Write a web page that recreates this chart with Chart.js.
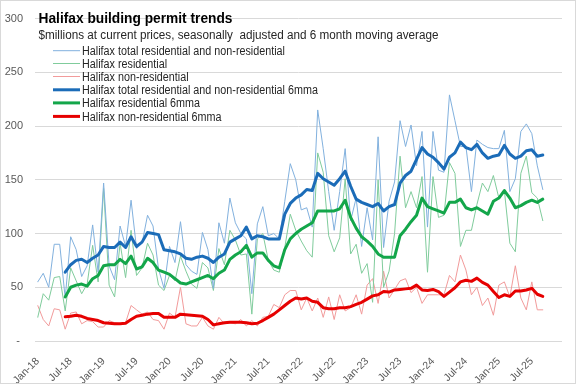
<!DOCTYPE html>
<html><head><meta charset="utf-8">
<script src="https://cdn.jsdelivr.net/npm/chart.js@4.4.1/dist/chart.umd.min.js"></script>
<style>html,body{margin:0;padding:0;background:#fff;}canvas{display:block;}</style>
</head><body>
<canvas id="c" width="577" height="385"></canvas>
<script>
const monthNames = ['Jan','Feb','Mar','Apr','May','Jun','Jul','Aug','Sep','Oct','Nov','Dec'];
const yearLabels = ['18','19','20','21','22','23','24','25'];
const categories = yearLabels.flatMap(y => monthNames.map(m => m + '-' + y));

const totalMonthly = [
 55,63,50,90,90,40,97,85,60,70,108,64,
 147,70,57,107,88,131,86,91,117,107,67,49,
 88,73,111,71,65,62,101,85,49,110,91,133,
 110,100,95,44,109,125,98,100,95,130,165,150,
 122,124,106,215,179,139,103,139,179,112,133,88,
 124,94,190,87,130,148,205,181,201,163,195,106,
 195,159,157,229,205,181,181,139,187,183,180,179,
 179,196,139,151,195,202,193,163,141];
const residentialMonthly = [
 22,44,38,59,60,28,68,56,44,53,89,55,
 142,52,41,91,59,103,61,68,91,80,52,47,
 61,56,79,65,53,49,73,68,47,86,71,103,
 94,80,81,25,95,100,75,66,64,87,118,103,
 93,84,78,175,157,98,83,96,151,81,90,63,
 72,36,150,50,65,100,172,124,139,124,153,64,
 153,115,117,166,156,88,103,103,127,147,139,154,
 133,140,91,83,156,172,138,133,112];
const nonResMonthly = [
 33,20,14,30,29,11,26,27,16,19,18,13,
 13,19,17,16,17,33,29,25,27,20,19,11,
 26,22,50,16,14,14,22,14,11,22,16,17,
 16,20,14,19,14,22,23,34,31,43,47,47,
 29,40,28,40,22,41,20,43,28,31,43,25,
 52,58,35,65,40,48,56,58,45,50,35,43,
 43,43,43,61,55,80,66,43,50,33,40,24,
 52,55,41,70,40,29,55,29,29];
const totalMA = [
 null,null,null,null,null,64,71,75,76,73,77,80,
 88,87,87,92,87,97,88,92,101,100,99,85,
 84,83,81,77,76,78,79,77,73,78,81,92,
 95,98,106,95,98,97,95,95,95,118,128,133,
 136,141,140,156,151,148,145,151,158,144,132,129,
 127,125,128,121,125,127,147,154,158,169,180,174,
 171,166,160,171,175,185,180,178,183,175,170,172,
 173,182,174,170,172,177,178,172,173];
const residentialMA = [
 null,null,null,null,null,41,50,52,53,51,58,61,
 70,71,71,76,72,79,67,69,77,73,66,64,
 62,58,54,53,55,57,59,61,58,63,66,76,
 80,83,89,78,82,82,75,70,68,85,95,100,
 104,107,110,121,121,121,121,123,131,115,105,97,
 93,88,81,78,78,78,98,104,111,117,133,125,
 123,121,119,129,129,132,124,122,124,121,118,130,
 133,140,133,124,126,129,131,129,132];
const nonResMA = [
 null,null,null,null,null,22.5,23,24,23,21,20,19,
 17,16.5,16,16,16.5,20,23,24,25,25.5,25.5,22,
 22,22,25,24.5,24,23.5,23,20,15,16,17,17.5,
 17.5,17.5,17,16,16.5,19,22,25,29,33,37,40,
 39,40,37,36,31,30,30,31,31,32,34,36,
 39,42,43,46,45.5,47.5,48,48.5,49,52,47.5,47,
 48,46,41.5,45.5,49.5,55,56.5,55.5,58.5,54.5,52,46,
 40.5,43,41.5,46.5,46.5,47.5,49,43.5,41.5];

const seriesNames = [
 'Halifax total residential and non-residential',
 'Halifax residential',
 'Halifax non-residential',
 'Halifax total residential and non-residential 6mma',
 'Halifax residential 6mma',
 'Halifax non-residential 6mma'];
const titleText = 'Halifax building permit trends';
const subtitleText = '$millions at current prices, seasonally  adjusted and 6 month moving average';

function hasFont(name){
  const c = document.createElement('canvas').getContext('2d');
  const s = 'abcdefghijklmnopqrstuvwxyz0123456789';
  c.font = '40px monospace'; const a = c.measureText(s).width;
  c.font = '40px "' + name + '", monospace'; const b = c.measureText(s).width;
  return Math.abs(a-b) > 0.5;
}
const NARROW = hasFont('Liberation Sans Narrow');
const FAMILY = NARROW ? '"Liberation Sans Narrow", "Liberation Sans", sans-serif' : '"Liberation Sans", Arial, sans-serif';

function fitText(ctx, text, x, y, font, targetW, color){
  ctx.save();
  ctx.font = font; ctx.fillStyle = color;
  const w = ctx.measureText(text).width;
  const s = targetW ? targetW / w : 1;
  ctx.translate(x, y); ctx.scale(s, 1);
  ctx.textAlign = 'left'; ctx.textBaseline = 'alphabetic';
  ctx.fillText(text, 0, 0);
  ctx.restore();
}

const decor = {
  id: 'decor',
  beforeDraw(chart){
    const ctx = chart.ctx;
    ctx.save(); ctx.fillStyle = '#fff'; ctx.fillRect(0,0,chart.width,chart.height); ctx.restore();
  },
  afterDraw(chart){
    const ctx = chart.ctx;
    fitText(ctx, titleText, 38.5, 23, 'bold 15px ' + FAMILY, 194, '#000000');
    fitText(ctx, subtitleText, 38.5, 38.5, '12.5px ' + FAMILY, 400, '#262626');
    const rows = [50.7, 63.5, 76.5, 89.8, 102.9, 116.4];
    const ds = chart.data.datasets;
    ctx.save();
    ctx.font = '12px ' + FAMILY;
    const sc = 203 / ctx.measureText(seriesNames[0]).width;
    ctx.restore();
    ds.forEach((d, k) => {
      const y = rows[k];
      ctx.save();
      ctx.strokeStyle = d.borderColor; ctx.lineWidth = d.borderWidth;
      ctx.beginPath(); ctx.moveTo(53, y); ctx.lineTo(80, y); ctx.stroke();
      ctx.restore();
      ctx.save();
      ctx.font = '12px ' + FAMILY; ctx.fillStyle = '#262626';
      ctx.translate(82, y + 4.3); ctx.scale(sc, 1);
      ctx.fillText(d.label, 0, 0);
      ctx.restore();
    });
    ctx.save(); ctx.strokeStyle = '#d9d9d9'; ctx.lineWidth = 1;
    ctx.strokeRect(0.5, 0.5, 575, 383); ctx.restore();
  }
};

const thin = 1, thick = 3;
const datasets = [
 {label: seriesNames[0], data: totalMonthly, borderColor: '#82b1de', borderWidth: thin, order: 3},
 {label: seriesNames[1], data: residentialMonthly, borderColor: '#80cc9c', borderWidth: thin, order: 4},
 {label: seriesNames[2], data: nonResMonthly, borderColor: '#f29b9b', borderWidth: thin, order: 5},
 {label: seriesNames[3], data: totalMA, borderColor: '#1b6cb8', borderWidth: thick, order: 0},
 {label: seriesNames[4], data: residentialMA, borderColor: '#13a64a', borderWidth: thick, order: 1},
 {label: seriesNames[5], data: nonResMA, borderColor: '#e60000', borderWidth: thick, order: 2}
];

new Chart(document.getElementById('c'), {
  type: 'line',
  data: {labels: categories, datasets: datasets},
  options: {
    responsive: false, animation: false, devicePixelRatio: 1,
    layout: {padding: {top: 8, right: 15, bottom: 0, left: 0}},
    elements: {point: {radius: 0, hoverRadius: 0}, line: {tension: 0, borderJoinStyle: 'round', borderCapStyle: 'round'}},
    plugins: {legend: {display: false}, title: {display: false}, tooltip: {enabled: false}},
    scales: {
      x: {
        type: 'category', offset: true,
        grid: {display: false}, border: {display: false},
        ticks: {autoSkip: false, maxRotation: 45, minRotation: 45, padding: 6,
          color: '#595959', font: {family: FAMILY, size: NARROW ? 12 : 10.5},
          callback: (v, i) => (i % 6 === 0 ? categories[i] : null)},
        afterFit: s => { s.height = 44; }
      },
      y: {
        min: 0, max: 300,
        grid: {color: '#d9d9d9', lineWidth: 1, drawTicks: false}, border: {display: false},
        ticks: {stepSize: 50, padding: 12, color: '#595959', font: {family: FAMILY, size: NARROW ? 12.5 : 11},
          callback: v => (v === 0 ? '- ' : v)},
        afterFit: s => { s.width = 35; }
      }
    }
  },
  plugins: [decor]
});
</script>
</body></html>
